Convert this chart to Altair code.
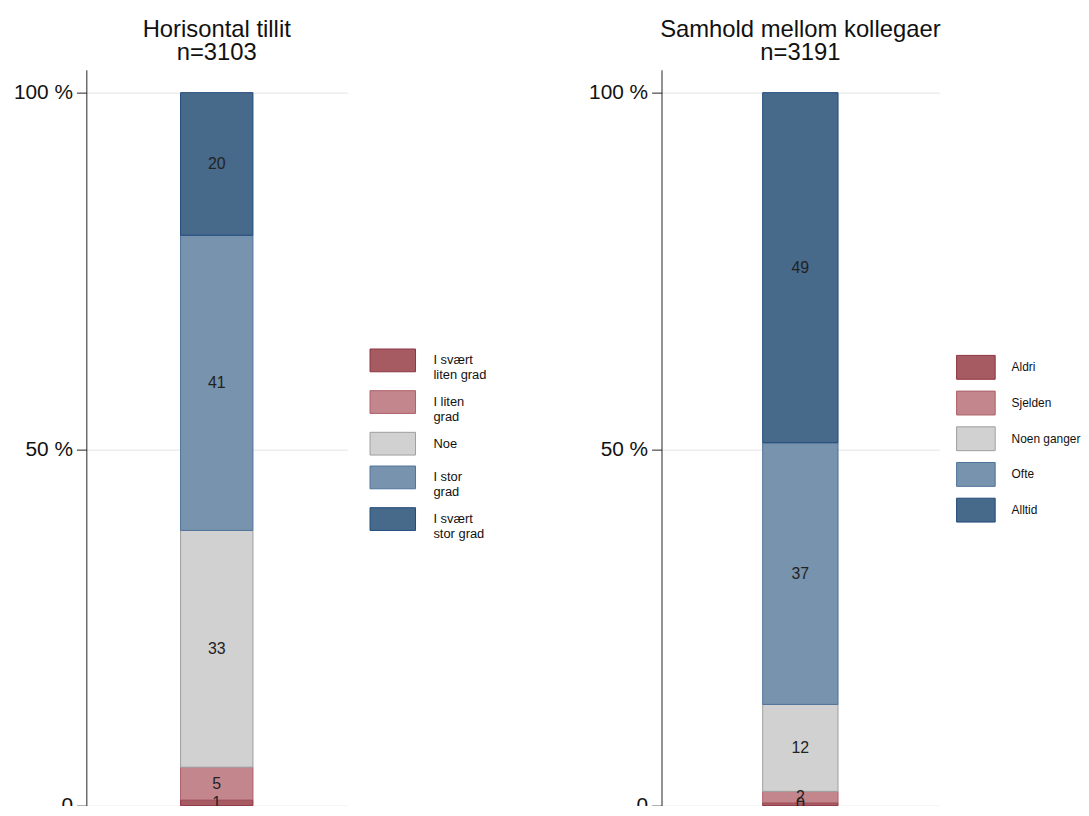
import altair as alt
import pandas as pd

FONT = "Liberation Sans"

left_title = ["Horisontal tillit", "n=3103"]
left_cats = ["I svært\nliten grad", "I liten\ngrad", "Noe", "I stor\ngrad", "I svært\nstor grad"]
left_vals = [0.8, 4.6, 33.2, 41.4, 20.0]

right_title = ["Samhold mellom kollegaer", "n=3191"]
right_cats = ["Aldri", "Sjelden", "Noen ganger", "Ofte", "Alltid"]
right_vals = [0.4, 1.6, 12.2, 36.7, 49.1]

fills = ["#a65b63", "#c2868c", "#d1d1d1", "#7893ad", "#476a8b"]
strokes = ["#8c3440", "#ad5f68", "#9e9e9e", "#4f729a", "#1f4a7a"]

y_ticks = [0, 50, 100]


def panel(title, cats, vals, plot_w, bar_w, lx, ly, row_pad, sym_path, lab_off, lab_size):
    df = pd.DataFrame({"cat": cats, "pct": vals, "idx": list(range(len(cats))), "g": ["a"] * len(cats)})
    base = alt.Chart(df).transform_stack(
        stack="pct", groupby=["g"], sort=[alt.SortField("idx", order="ascending")], as_=["y0", "y1"]
    ).transform_calculate(mid="(datum.y0 + datum.y1) / 2", lab="format(round(datum.pct), 'd')")
    yscale = alt.Scale(domain=[0, 103.2], nice=False, zero=True)
    bars = base.mark_bar(size=bar_w, strokeWidth=1).encode(
        x=alt.X("g:N", axis=None, scale=alt.Scale(paddingInner=0, paddingOuter=0)),
        y=alt.Y(
            "y0:Q",
            scale=yscale,
            title=None,
            axis=alt.Axis(
                values=y_ticks,
                labelExpr="datum.value == 0 ? '0' : datum.value + ' %'",
                labelFontSize=21,
                labelFont=FONT,
                labelColor="#111",
                domainColor="#222",
                tickColor="#222",
                tickSize=10,
                labelPadding=4,
                grid=True,
                gridColor="#e3e3e3",
            ),
        ),
        y2="y1:Q",
        fill=alt.Fill(
            "cat:N",
            scale=alt.Scale(domain=cats, range=fills),
            sort=cats,
            legend=alt.Legend(
                title=None,
                orient="none",
                legendX=lx,
                legendY=ly,
                symbolType=sym_path,
                symbolSize=506,
                symbolStrokeWidth=1,
                labelExpr="split(datum.label, '\\n')",
                labelFont=FONT,
                labelFontSize=lab_size,
                labelColor="#111",
                labelOffset=lab_off,
                rowPadding=row_pad,
                symbolOpacity=1,
            ),
        ),
        stroke=alt.Stroke("cat:N", scale=alt.Scale(domain=cats, range=strokes), sort=cats, legend=None),
        order=alt.Order("idx:Q"),
    )
    text = base.mark_text(font=FONT, fontSize=16, color="#222").encode(
        x=alt.X("g:N", axis=None),
        y=alt.Y("mid:Q", scale=yscale),
        text="lab:N",
    )
    return alt.layer(bars, text).properties(
        width=plot_w,
        height=742,
        title=alt.TitleParams(
            title, font=FONT, fontSize=24, fontWeight="normal", color="#111", anchor="middle", offset=5, lineHeight=23
        ),
    )


left = panel(left_title, left_cats, left_vals, 263, 73, 297, 281, 6,
             "M-2.04,-1.02H2.04V1.02H-2.04Z", 29, 13)
right = panel(right_title, right_cats, right_vals, 280, 76, 305, 288, 6,
              "M-1.73,-1.07H1.73V1.07H-1.73Z", 24, 12)

chart = (
    alt.hconcat(left, right, spacing=102)
    .resolve_scale(fill="independent", stroke="independent", y="independent", x="independent")
    .configure(padding={"left": 5, "top": 7, "right": 0, "bottom": -13})
    .configure_view(stroke=None)
)

chart.save("out.html", embed_options={"renderer": "svg", "actions": False})
